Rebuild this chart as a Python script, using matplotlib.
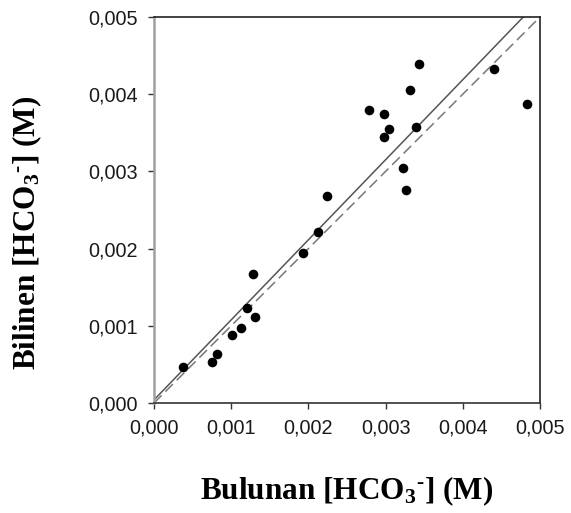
import matplotlib
matplotlib.use("Agg")
import matplotlib.pyplot as plt
import numpy as np
from matplotlib.ticker import FuncFormatter

# Data
measured = [0.000371, 0.000747, 0.000820, 0.001006, 0.001131, 0.001205, 0.001313,
            0.001287, 0.001926, 0.002129, 0.002245, 0.002781, 0.002975, 0.002975,
            0.003040, 0.003225, 0.003260, 0.003320, 0.003389, 0.003437, 0.004404,
            0.004827]
predicted = [0.000471, 0.000527, 0.000639, 0.000881, 0.000967, 0.001226, 0.001110,
             0.001675, 0.001943, 0.002219, 0.002681, 0.003795, 0.003748, 0.003446,
             0.003553, 0.003044, 0.002763, 0.004058, 0.003571, 0.004395, 0.004330,
             0.003873]
fit_slope = 1.037
fit_intercept = 0.00004
ticks = [0.000, 0.001, 0.002, 0.003, 0.004, 0.005]
xlabel = r"Bulunan [HCO$_\mathbf{3}$$^{\mathbf{\text{-}}}$] (M)"
ylabel = r"Bilinen [HCO$_\mathbf{3}$$^{\mathbf{\text{-}}}$] (M)"

plt.rcParams['mathtext.fontset'] = 'custom'
plt.rcParams['mathtext.rm'] = 'Liberation Serif:bold'
plt.rcParams['mathtext.bf'] = 'Liberation Serif:bold'
plt.rcParams['mathtext.it'] = 'Liberation Serif:bold'

fig = plt.figure(figsize=(5.71, 5.13), dpi=100)
ax = fig.add_axes([154 / 571, 110 / 513, 386 / 571, 386 / 513])

lim = (0.0, 0.005)
xs = np.array(lim)
ax.plot(xs, fit_intercept + fit_slope * xs, color='#555555', lw=1.1, zorder=2)
ax.plot(xs, xs, color='#777777', lw=1.1, dashes=(7, 3.5), zorder=2)
ax.scatter(measured, predicted, s=48, color='black', zorder=3, linewidths=0)

ax.set_xlim(lim)
ax.set_ylim(lim)
ax.set_xticks(ticks)
ax.set_yticks(ticks)
fmt = FuncFormatter(lambda v, p: f"{v:.3f}".replace('.', ','))
ax.xaxis.set_major_formatter(fmt)
ax.yaxis.set_major_formatter(fmt)
ax.tick_params(direction='out', length=4, width=1, color='#333333',
               labelsize=14.3, labelcolor='#1a1a1a', pad=7.5)
for lab in ax.get_xticklabels() + ax.get_yticklabels():
    lab.set_fontfamily('Liberation Sans')

for side in ['top', 'right']:
    ax.spines[side].set_color('#222222')
    ax.spines[side].set_linewidth(1.2)
ax.spines['bottom'].set_color('#333333')
ax.spines['bottom'].set_linewidth(1.2)
ax.spines['left'].set_color('#a0a0a0')
ax.spines['left'].set_linewidth(1.8)

ax.set_xlabel(xlabel, fontfamily='Liberation Serif', fontweight='bold', fontsize=22.5)
ax.set_ylabel(ylabel, fontfamily='Liberation Serif', fontweight='bold', fontsize=22.5)
ax.xaxis.set_label_coords(0.5, -0.184)
ax.yaxis.set_label_coords(-0.286, 0.44)

fig.savefig("out.png", dpi=100)
